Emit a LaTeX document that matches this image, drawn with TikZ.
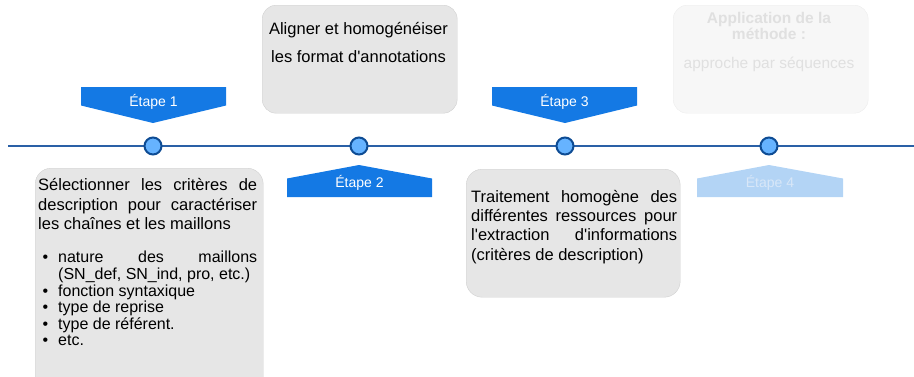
\documentclass[tikz,border=0pt]{standalone}
\usepackage{fontspec}
\setmainfont{Liberation Sans}
\usetikzlibrary{positioning,calc}
\definecolor{lineblue}{HTML}{2A60A6}
\definecolor{dotfill}{HTML}{66B3FF}
\definecolor{dotline}{HTML}{0E4C94}
\definecolor{tagblue}{HTML}{1479E4}
\definecolor{tagpale}{HTML}{B3D4F5}
\definecolor{tagpaletext}{HTML}{D8E7F8}
\definecolor{cardfill}{HTML}{E6E6E6}
\definecolor{cardline}{HTML}{D0D0D0}
\definecolor{ghostfill}{HTML}{F7F7F7}
\definecolor{ghostline}{HTML}{EDEDED}
\definecolor{ghosttext}{HTML}{E0E0E0}
\hyphenpenalty=10000
\exhyphenpenalty=10000
\newcommand{\apos}{\textquotesingle}
% texte d'etape decale vers la pointe
\newcommand{\tagdown}[1]{\raisebox{-5pt}[\height][\depth]{#1}}
\newcommand{\tagup}[1]{\raisebox{5pt}[\height][\depth]{#1}}
\begin{document}
\begin{tikzpicture}[x=1pt,y=-1pt,
  stepdot/.style={draw=dotline,fill=dotfill,circle,line width=2pt,inner sep=0pt,minimum size=17pt},
  tag/.style={fill=tagblue,text=white,font=\fontsize{14}{15}\selectfont,minimum width=145pt,minimum height=19pt,inner sep=0pt},
  card/.style={draw=cardline,fill=cardfill,rounded corners=16pt,anchor=north west,inner sep=0pt},
  cardtext/.style={font=\fontsize{16.5}{19.3}\selectfont,inner sep=0pt,anchor=north west,align=justify}]
\useasboundingbox (0,0) rectangle (914,376);
\clip (0,0) rectangle (914,376);

% cartes
\node[card,minimum width=228pt,minimum height=240pt] (sel) at (35,168) {};
\node[card,minimum width=214pt,minimum height=128pt] (trait) at (466,169) {};
\node[card,minimum width=195pt,minimum height=108pt,rounded corners=14pt] (harm) at (262,5) {};
\node[card,draw=ghostline,fill=ghostfill,minimum width=195pt,minimum height=108pt,rounded corners=14pt] (appl) at (673,5) {};

\node[cardtext,text width=219pt,below right=10.5pt and 3pt of sel.north west] (seltxt)
  {Sélectionner les critères de description pour caractériser les chaînes et les maillons};
\node[cardtext,font=\fontsize{16}{16.6}\selectfont,text width=213pt,below right=78pt and 9pt of sel.north west] (sellist)
  {\begin{list}{\textbullet}{\setlength{\leftmargin}{14pt}\setlength{\labelsep}{10pt}\setlength{\labelwidth}{7pt}%
     \setlength{\itemsep}{0pt}\setlength{\parsep}{0pt}\setlength{\topsep}{0pt}\setlength{\partopsep}{0pt}}
   \item nature des maillons (SN\_def, SN\_ind, pro, etc.)
   \item fonction syntaxique
   \item type de reprise
   \item type de référent.
   \item etc.
   \end{list}};
\node[cardtext,text width=206pt,below right=21pt and 5pt of trait.north west] (traittxt)
  {Traitement homogène des différentes ressources pour l\apos extraction d\apos informations (critères de description)};
\node[font=\fontsize{16.5}{28}\selectfont,align=center,inner sep=0pt,anchor=north] (harmtxt) at (358.5,22.5)
  {Aligner et homogénéiser\\les format d\apos annotations};
\node[font=\fontsize{15.5}{16}\selectfont,text=ghosttext,align=center,inner sep=0pt,anchor=north] (appltxt) at (769,12.5)
  {\textbf{Application de la}\\\textbf{méthode :}\\[13pt]approche par séquences};

% frise
\coordinate (tlstart) at (8,146);
\coordinate (tlend) at (914,146);
\draw[lineblue,line width=2.5pt] (tlstart) -- (tlend);
\node[stepdot] (p1) at (153,146) {};
\node[stepdot] (p2) at (359,146) {};
\node[stepdot] (p3) at (565,146) {};
\node[stepdot] (p4) at (769,146) {};

% etapes
\fill[tagblue] (81,87) -- (226,87) -- (226,105.5) -- (153,123) -- (81,105.5) -- cycle;
\node[tag,fill=none] (e1) at (153.5,96.5) {\tagdown{Étape 1}};
\fill[tagblue] (287,178.5) -- (359,165) -- (432,178.5) -- (432,197) -- (287,197) -- cycle;
\node[tag,fill=none] (e2) at (359.5,187.5) {\tagup{Étape 2}};
\fill[tagblue] (492,87) -- (637,87) -- (637,105.5) -- (565,123) -- (492,105.5) -- cycle;
\node[tag,fill=none] (e3) at (564.5,96.5) {\tagdown{Étape 3}};
\fill[tagpale] (697,178.5) -- (769,165) -- (843,178.5) -- (843,197) -- (697,197) -- cycle;
\node[tag,fill=none,text=tagpaletext] (e4) at (770,187.5) {\tagup{Étape 4}};
\end{tikzpicture}
\end{document}
